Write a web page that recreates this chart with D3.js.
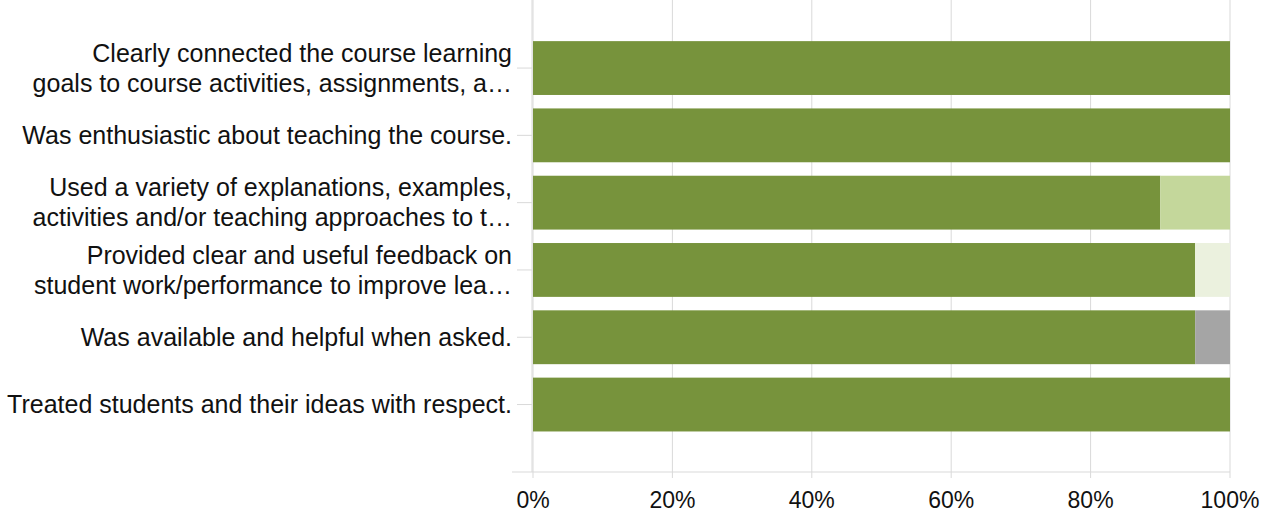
<!DOCTYPE html>
<html>
<head>
<meta charset="utf-8">
<script src="https://cdn.jsdelivr.net/npm/d3@7"></script>
<style>
  body { margin: 0; background: #fff; }
  svg { display: block; font-family: Arial, "Liberation Sans", sans-serif; }
</style>
</head>
<body>
<div id="chart"></div>
<script>
// question labels, each split into its two visible lines
const questions = [
  ['Clearly connected the course learning', 'goals to course activities, assignments, a\u2026'],
  ['Was enthusiastic about teaching the course.'],
  ['Used a variety of explanations, examples,', 'activities and/or teaching approaches to t\u2026'],
  ['Provided clear and useful feedback on', 'student work/performance to improve lea\u2026'],
  ['Was available and helpful when asked.'],
  ['Treated students and their ideas with respect.']
];

const seriesNames  = ['Strongly agree', 'Agree', 'Neutral', 'Not applicable'];
const seriesColors = ['#77933c', '#c4d79b', '#ebf1de', '#a5a5a5'];

// shares per question, in percent
const stronglyAgree = [100, 100, 90, 95, 95, 100];
const agree         = [0, 0, 10, 0, 0, 0];
const neutral       = [0, 0, 0, 5, 0, 0];
const notApplicable = [0, 0, 0, 0, 5, 0];

const xTicks = [0, 20, 40, 60, 80, 100];

const W = 1273, H = 519;
const plotLeft = 532, plotRight = 1230, plotTop = 0, base = 472;

const rows = questions.map((q, i) => ({
  i,
  'Strongly agree': stronglyAgree[i],
  'Agree': agree[i],
  'Neutral': neutral[i],
  'Not applicable': notApplicable[i]
}));

const svg = d3.select('#chart').append('svg')
  .attr('width', W)
  .attr('height', H);

const x = d3.scaleLinear().domain([0, 100]).range([plotLeft + 1, plotRight]);
const y = d3.scaleBand().domain(d3.range(questions.length))
  .range([34.4, 438.2])
  .paddingInner(0.2)
  .paddingOuter(0.1);

const color = d3.scaleOrdinal(seriesNames, seriesColors);

// gridlines
svg.append('g')
  .selectAll('line')
  .data(xTicks)
  .join('line')
  .attr('x1', d => x(d)).attr('x2', d => x(d))
  .attr('y1', plotTop).attr('y2', base + 6)
  .attr('stroke', '#d9d9d9')
  .attr('stroke-width', 1);

// baseline
svg.append('line')
  .attr('x1', 512).attr('x2', plotRight)
  .attr('y1', base).attr('y2', base)
  .attr('stroke', '#d9d9d9');

// vertical axis + category ticks
svg.append('line')
  .attr('x1', plotLeft).attr('x2', plotLeft)
  .attr('y1', plotTop).attr('y2', base)
  .attr('stroke', '#d9d9d9');

svg.append('g')
  .selectAll('line')
  .data(d3.range(questions.length))
  .join('line')
  .attr('x1', 517).attr('x2', plotLeft)
  .attr('y1', d => y(d) + y.bandwidth() / 2)
  .attr('y2', d => y(d) + y.bandwidth() / 2)
  .attr('stroke', '#d9d9d9');

// stacked bars
const stacked = d3.stack().keys(seriesNames)(rows);

svg.append('g')
  .selectAll('g')
  .data(stacked)
  .join('g')
  .attr('fill', d => color(d.key))
  .selectAll('rect')
  .data(d => d.filter(s => s[1] > s[0]))
  .join('rect')
  .attr('x', d => x(d[0]))
  .attr('width', d => x(d[1]) - x(d[0]))
  .attr('y', d => y(d.data.i))
  .attr('height', y.bandwidth());

// category labels
const lineGap = 30;
svg.append('g')
  .selectAll('text')
  .data(questions)
  .join('text')
  .attr('text-anchor', 'end')
  .attr('font-size', 25)
  .attr('fill', '#111')
  .each(function (lines, i) {
    const cy = y(i) + y.bandwidth() / 2;
    const y0 = cy - (lines.length - 1) * lineGap / 2;
    d3.select(this).selectAll('tspan')
      .data(lines)
      .join('tspan')
      .attr('x', 512)
      .attr('y', (d, k) => y0 + k * lineGap)
      .attr('dy', '0.35em')
      .text(d => d);
  });

// x tick labels
svg.append('g')
  .selectAll('text')
  .data(xTicks)
  .join('text')
  .attr('x', d => x(d))
  .attr('y', 500)
  .attr('dy', '0.35em')
  .attr('text-anchor', 'middle')
  .attr('font-size', 23)
  .attr('fill', '#111')
  .text(d => d + '%');
</script>
</body>
</html>
